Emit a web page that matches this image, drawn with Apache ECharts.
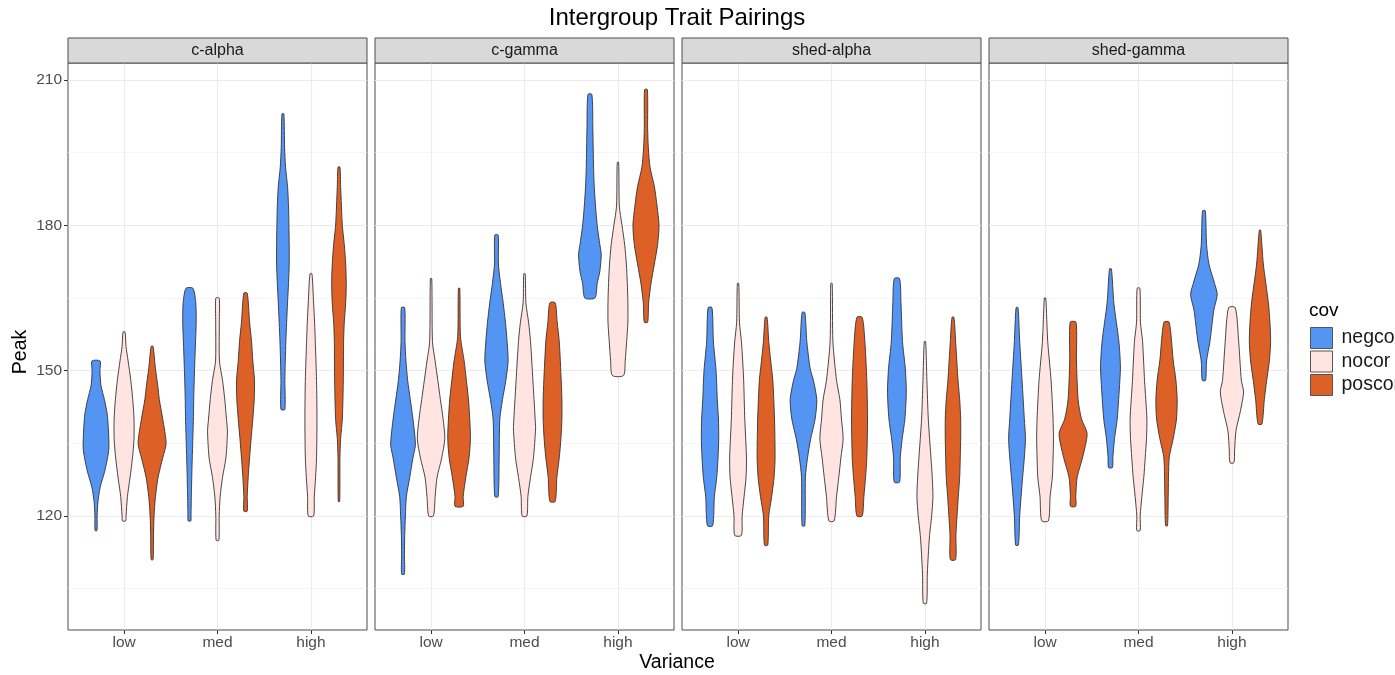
<!DOCTYPE html>
<html>
<head>
<meta charset="utf-8">
<script src="https://cdn.jsdelivr.net/npm/echarts@6/dist/echarts.min.js"></script>
<style>
  html, body { margin: 0; padding: 0; background: #fff; }
  #chart { width: 1395px; height: 675px; }
</style>
</head>
<body>
<div id="chart"></div>
<script>
// facets, x categories and fill groups
const panels = ['c-alpha', 'c-gamma', 'shed-alpha', 'shed-gamma']
const levels = ['low', 'med', 'high']
const covs = ['negcor', 'nocor', 'poscor']
const covColors = ['#5494f2', '#ffe4e1', '#dd6127']
const yTicks = [120, 150, 180, 210]
const yMinor = [105, 135, 165, 195]

// violin outlines: [Peak, relative density], one profile per level (low, med, high)
const cAlphaNeg = [
  [[152,0.29],[150,0.28],[147,0.35],[144,0.6],[141,0.8],[138,0.88],[134,0.92],[132,0.82],[129,0.6],[126,0.3],[123,0.14],[120,0.08],[117,0.07]],
  [[167,0.25],[164,0.45],[160,0.48],[155,0.42],[150,0.36],[145,0.31],[140,0.28],[135,0.23],[130,0.18],[125,0.14],[120,0.11],[119,0.1]],
  [[203,0.07],[196,0.12],[192,0.19],[188,0.33],[184,0.4],[180,0.43],[176,0.45],[172,0.45],[168,0.4],[164,0.33],[156,0.21],[148,0.14],[142,0.14]]
]
const cAlphaNo = [
  [[158,0.07],[155,0.14],[152,0.29],[148,0.48],[144,0.62],[140,0.71],[136,0.71],[132,0.6],[128,0.43],[124,0.24],[120,0.14],[119,0.12]],
  [[165,0.12],[160,0.13],[152,0.14],[148,0.36],[144,0.52],[140,0.64],[137.5,0.71],[132,0.6],[128,0.36],[124,0.19],[120,0.12],[115,0.1]],
  [[170,0.07],[164,0.19],[160,0.26],[156,0.31],[148,0.4],[140,0.43],[132,0.4],[128,0.33],[124,0.24],[120,0.19]]
]
const cAlphaPos = [
  [[155,0.07],[150.4,0.24],[147,0.4],[144,0.52],[140,0.76],[135,1.0],[132,0.76],[128,0.43],[124,0.24],[120,0.14],[116,0.1],[111,0.07]],
  [[166,0.12],[160,0.29],[156,0.43],[152,0.52],[148,0.64],[144,0.62],[140,0.52],[136,0.4],[132,0.29],[128,0.19],[124,0.12],[121,0.12]],
  [[192,0.07],[188,0.12],[180,0.24],[176,0.38],[172,0.48],[168,0.52],[164,0.48],[160,0.38],[156,0.33],[148,0.31],[140,0.24],[136,0.12],[132,0.07],[123,0.05]]
]
const cGammaNeg = [
  [[163,0.12],[156,0.14],[152,0.21],[148,0.33],[144,0.52],[140,0.71],[136,0.86],[134.5,0.88],[132,0.71],[128,0.48],[124,0.24],[120,0.17],[116,0.12],[112,0.1],[108,0.1]],
  [[178,0.12],[172,0.14],[168,0.29],[164,0.48],[160,0.64],[156,0.76],[152,0.83],[148,0.67],[144,0.43],[140,0.24],[132,0.19],[124,0.12]],
  [[207,0.14],[200,0.21],[192,0.26],[188,0.31],[184,0.4],[180,0.52],[176,0.71],[174,0.81],[170.5,0.71],[168,0.52],[165,0.36]]
]
const cGammaNo = [
  [[169,0.05],[156,0.1],[152,0.29],[148,0.48],[144,0.67],[140,0.86],[136,0.98],[132,0.76],[128,0.43],[124,0.29],[120,0.17]],
  [[170,0.05],[164,0.1],[160,0.29],[156,0.43],[148,0.6],[140,0.76],[138,0.79],[132,0.64],[128,0.43],[124,0.24],[120,0.17]],
  [[193,0.05],[184,0.1],[180,0.29],[176,0.48],[172,0.6],[168,0.67],[164,0.71],[160,0.71],[156,0.62],[152,0.52],[149,0.4]]
]
const cGammaPos = [
  [[167,0.05],[157,0.1],[152,0.36],[148,0.52],[144,0.67],[140,0.76],[136,0.81],[132,0.71],[128,0.48],[124,0.29],[122,0.29]],
  [[164,0.19],[160,0.33],[156,0.48],[148,0.62],[144,0.67],[140,0.67],[136,0.6],[132,0.48],[128,0.31],[123,0.19]],
  [[208,0.1],[200,0.12],[196,0.17],[192,0.29],[188,0.6],[184,0.79],[180,0.93],[176,0.83],[172,0.6],[168,0.36],[164,0.19],[160,0.12]]
]
const shedAlphaNeg = [
  [[163,0.14],[156,0.24],[150,0.43],[144,0.52],[140,0.6],[136,0.62],[132,0.57],[128,0.48],[124,0.31],[118,0.19]],
  [[162,0.1],[156,0.24],[150.4,0.48],[148,0.71],[144,0.95],[140,0.83],[136,0.52],[132,0.29],[128,0.14],[118,0.1]],
  [[169,0.19],[164,0.29],[156,0.4],[150.4,0.6],[145.5,0.67],[140,0.57],[136,0.38],[132,0.24],[127,0.19]]
]
const shedAlphaNo = [
  [[168,0.05],[160,0.1],[156,0.24],[152,0.33],[148,0.4],[140,0.48],[132,0.6],[128,0.57],[124,0.43],[120,0.29],[116,0.24]],
  [[168,0.05],[156,0.1],[148,0.36],[144,0.6],[140,0.71],[136,0.83],[132,0.67],[128,0.52],[124,0.36],[119,0.19]],
  [[156,0.05],[148,0.14],[140,0.24],[132,0.43],[128,0.52],[124,0.57],[120,0.48],[116,0.33],[112,0.24],[108,0.17],[102,0.12]]
]
const shedAlphaPos = [
  [[161,0.07],[156,0.19],[152,0.33],[148,0.48],[140,0.6],[132,0.64],[128,0.57],[124,0.4],[120,0.19],[114,0.12]],
  [[161,0.19],[156,0.38],[148,0.52],[140,0.57],[132,0.52],[128,0.43],[124,0.31],[120,0.19]],
  [[161,0.07],[156,0.19],[148,0.36],[144,0.48],[140,0.55],[136,0.55],[132,0.52],[128,0.48],[124,0.38],[120,0.29],[116,0.21],[111,0.19]]
]
const shedGammaNeg = [
  [[163,0.07],[156,0.19],[148,0.36],[140,0.52],[136,0.6],[132,0.52],[128,0.4],[124,0.29],[120,0.19],[114,0.1]],
  [[171,0.07],[164,0.24],[156,0.6],[151,0.71],[148,0.67],[140,0.48],[136,0.29],[132,0.17],[130,0.14]],
  [[183,0.1],[176,0.19],[172,0.36],[168,0.76],[165.7,0.95],[162.5,0.71],[156,0.43],[152,0.19],[148,0.12]]
]
const shedGammaNo = [
  [[165,0.05],[156,0.19],[148,0.43],[140,0.57],[136,0.6],[132,0.57],[128,0.52],[124,0.36],[119,0.24]],
  [[167,0.1],[160,0.14],[156,0.29],[148,0.43],[140,0.6],[136,0.57],[132,0.48],[128,0.38],[124,0.24],[120,0.12],[117,0.12]],
  [[163,0.24],[156,0.48],[148,0.67],[145.6,0.83],[141.6,0.6],[137.6,0.29],[133.6,0.19],[131,0.14]]
]
const shedGammaPos = [
  [[160,0.21],[152,0.24],[144,0.36],[140,0.6],[137,1.0],[132,0.67],[128,0.29],[124,0.19],[122,0.19]],
  [[160,0.19],[152,0.48],[148,0.67],[144,0.76],[140,0.71],[136,0.48],[132,0.19],[124,0.12],[118,0.07]],
  [[179,0.05],[172,0.24],[164,0.6],[160,0.71],[156,0.76],[152,0.67],[148,0.48],[144,0.31],[139,0.14]]
]

const violins = [
  [cAlphaNeg, cAlphaNo, cAlphaPos],
  [cGammaNeg, cGammaNo, cGammaPos],
  [shedAlphaNeg, shedAlphaNo, shedAlphaPos],
  [shedGammaNeg, shedGammaNo, shedGammaPos]
]

const FONT = '"Liberation Sans", Arial, Helvetica, sans-serif'
const Y_MIN = 96.47
const Y_MAX = 213.5
const DODGE = 0.3   // distance between dodged violins, in category units
const HALF = 0.15   // half width of a violin at density 1

const gridLeft = [68, 375, 682, 989]
const gridW = 299
const gridTop = 63
const gridH = 567

const chart = echarts.init(document.getElementById('chart'), null, { renderer: 'canvas' })

function violinRenderer(profiles, offset) {
  return function (params, api) {
    const x = api.value(0) + offset
    const prof = profiles[params.dataIndex]
    const left = prof.map(p => api.coord([x - p[1] * HALF, p[0]]))
    const right = prof.map(p => api.coord([x + p[1] * HALF, p[0]])).reverse()
    return {
      type: 'polygon',
      shape: { points: left.concat(right), smooth: 0.25 },
      style: { fill: api.visual('color'), stroke: '#333333', lineWidth: 0.9 }
    }
  }
}

const grids = [], xAxes = [], yAxes = [], series = [], graphics = []

panels.forEach((name, i) => {
  grids.push({
    left: gridLeft[i], top: gridTop, width: gridW, height: gridH,
    show: true, borderColor: '#4d4d4d', borderWidth: 1, backgroundColor: '#fff'
  })
  xAxes.push({
    type: 'value', gridIndex: i, min: 0.4, max: 3.6,
    axisLine: { show: false },
    axisTick: { show: true, length: 4, customValues: [1, 2, 3], lineStyle: { color: '#333' } },
    axisLabel: {
      customValues: [1, 2, 3], formatter: v => levels[Math.round(v) - 1] || '',
      color: '#4d4d4d', fontSize: 15.5, fontFamily: FONT, margin: 5
    },
    splitLine: { show: false }
  })
  yAxes.push({
    type: 'value', gridIndex: i, min: Y_MIN, max: Y_MAX,
    axisLine: { show: false },
    axisTick: { show: i === 0, length: 4, customValues: yTicks, lineStyle: { color: '#333' } },
    axisLabel: {
      show: i === 0, customValues: yTicks, color: '#4d4d4d', fontSize: 15.5, fontFamily: FONT, margin: 6
    },
    splitLine: { show: false }
  })

  // panel grid lines
  series.push({
    type: 'line', xAxisIndex: i, yAxisIndex: i, data: [], silent: true, z: 1,
    markLine: {
      silent: true, symbol: ['none', 'none'], animation: false, z: 1,
      label: { show: false },
      data: yMinor.map(v => ({ yAxis: v, lineStyle: { color: '#f2f2f2', width: 0.7, type: 'solid' } }))
        .concat(yTicks.map(v => ({ yAxis: v, lineStyle: { color: '#ebebeb', width: 1.1, type: 'solid' } })))
        .concat([1, 2, 3].map(v => ({ xAxis: v, lineStyle: { color: '#ebebeb', width: 1.1, type: 'solid' } })))
    }
  })

  covs.forEach((cov, k) => {
    series.push({
      type: 'custom', name: cov, xAxisIndex: i, yAxisIndex: i, z: 10,
      itemStyle: { color: covColors[k], borderColor: '#333' },
      renderItem: violinRenderer(violins[i][k], (k - 1) * DODGE),
      data: levels.map((l, j) => [j + 1]),
      encode: { x: 0 },
      animation: false
    })
  })

  // facet strip
  graphics.push({
    type: 'rect', shape: { x: gridLeft[i], y: 38, width: gridW, height: 25 },
    style: { fill: '#d9d9d9', stroke: '#4d4d4d', lineWidth: 1 }, z: 10
  })
  graphics.push({
    type: 'text', x: gridLeft[i] + gridW / 2, y: 51, z: 11,
    style: { text: name, fill: '#1a1a1a', font: '16px ' + FONT, align: 'center', verticalAlign: 'middle' }
  })
})

graphics.push({
  type: 'text', x: 677, y: 18,
  style: { text: 'Intergroup Trait Pairings', fill: '#000', font: '24px ' + FONT, align: 'center', verticalAlign: 'middle' }
})
graphics.push({
  type: 'text', x: 677, y: 663,
  style: { text: 'Variance', fill: '#000', font: '19.5px ' + FONT, align: 'center', verticalAlign: 'middle' }
})
graphics.push({
  type: 'text', x: 21, y: 352, rotation: Math.PI / 2,
  style: { text: 'Peak', fill: '#000', font: '19.5px ' + FONT, align: 'center', verticalAlign: 'middle' }
})
graphics.push({
  type: 'text', x: 1309, y: 311,
  style: { text: 'cov', fill: '#000', font: '19px ' + FONT, align: 'left', verticalAlign: 'middle' }
})

chart.setOption({
  animation: false,
  backgroundColor: '#fff',
  grid: grids,
  xAxis: xAxes,
  yAxis: yAxes,
  legend: {
    orient: 'vertical', left: 1310, top: 327, padding: 0,
    icon: 'rect', itemWidth: 22, itemHeight: 21, itemGap: 1.5,
    textStyle: { color: '#1a1a1a', fontSize: 19.5, fontFamily: FONT, padding: [0, 0, 0, 4] },
    data: covs.map((c, k) => ({
      name: c, itemStyle: { color: covColors[k], borderColor: '#555', borderWidth: 1 }
    }))
  },
  graphic: graphics,
  series: series
})
</script>
</body>
</html>
